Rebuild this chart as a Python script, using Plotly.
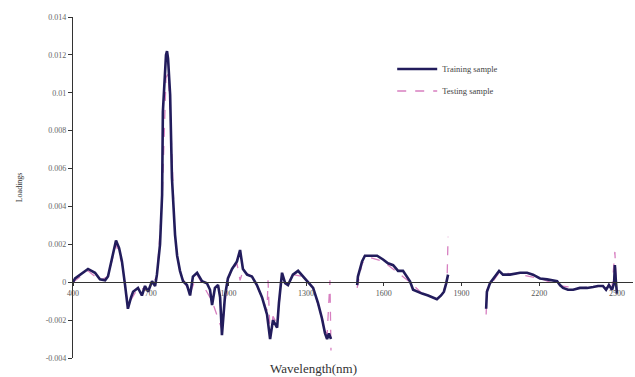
import plotly.graph_objects as go

# ---- data ----
wl_dark = [400, 408, 458, 485, 504, 524, 535, 551, 566, 578, 589, 601, 612, 624, 632, 651, 666, 678, 690, 705,
           717, 724, 736, 744, 747, 759, 763, 767, 775, 782, 794, 802, 813, 825, 840, 852, 863, 879, 898, 917,
           929, 937, 948, 960, 968, 975, 987, 998, 1014, 1033, 1045, 1056, 1072, 1091, 1110, 1130, 1149, 1161,
           1172, 1188, 1195, 1207, 1219, 1230, 1249, 1269, 1288, 1307, 1327, 1346, 1361, 1373, 1381, 1388, 1396,
           None,
           1497, 1500, 1516, 1527, 1547, 1574, 1597, 1616, 1636, 1655, 1674, 1690, 1701, 1713, 1728, 1748, 1771,
           1790, 1805, 1821, 1832, 1840, 1848,
           None,
           1995, 1998, 2010, 2029, 2045, 2060, 2087, 2126, 2153, 2176, 2203, 2230, 2253, 2269, 2280, 2292, 2311,
           2331, 2357, 2385, 2408, 2427, 2446, 2458, 2469, 2481, 2489, 2492, 2496, 2500]
val_dark = [0.0, 0.0002, 0.0007, 0.0005, 0.00015, 0.0001, 0.0003, 0.0012, 0.0022, 0.0018, 0.0011, -0.00015,
            -0.0014, -0.0008, -0.0005, -0.0003, -0.0007, -0.0002, -0.0005, 0.00005, -0.0002, 0.0004, 0.002,
            0.0046, 0.009, 0.012, 0.0122, 0.0118, 0.0099, 0.0055, 0.0025, 0.0014, 0.0006, 0.00005, -0.00015,
            -0.0007, 0.0003, 0.0005, 0.00005, -0.00005, -0.0004, -0.0012, -0.0003, -0.00015, -0.0008, -0.0028,
            -0.0007, 0.0002, 0.0007, 0.0011, 0.0017, 0.0007, 0.0004, 0.0003, -0.00015, -0.0008, -0.0017, -0.003,
            -0.002, -0.0024, -0.0011, 0.0005, -0.00005, -0.00015, 0.0004, 0.0006, 0.0003, 0.0, -0.0003, -0.0011,
            -0.0019, -0.0027, -0.003, -0.0027, -0.003,
            None,
            -0.00015, 0.0003, 0.0011, 0.0014, 0.0014, 0.0014, 0.0012, 0.001, 0.0009, 0.0006, 0.0006, 0.0003,
            0.00005, -0.0004, -0.0005, -0.0006, -0.0007, -0.0008, -0.0009, -0.0007, -0.0005, -0.0001, 0.0004,
            None,
            -0.0014, -0.0005, -0.00005, 0.0003, 0.0006, 0.0004, 0.0004, 0.0005, 0.0005, 0.0004, 0.0002, 0.00015,
            0.0001, 0.00005, -0.00015, -0.0003, -0.0004, -0.0004, -0.0003, -0.0003, -0.00025, -0.0002, -0.0002,
            -0.0004, -0.00015, -0.0004, -0.00005, 0.0009, 0.00005, -0.0006]

wl_pink = [400, 458, 504, 535, 566, 589, 612, 651, 690, 724, 744, 759, 767, 775, 794, 813, 852, 879, 937, 975,
           998, 1033, 1045, 1056, 1091, 1130, 1149, 1153, 1161, 1172, 1188, 1207, 1249, 1288, 1327, 1361, 1381,
           1392, 1396,
           None,
           1497, 1516, 1547, 1597, 1655, 1701, 1748, 1805, 1832, 1844, 1848,
           None,
           1995, 1998, 2045, 2126, 2203, 2280, 2357, 2446, 2469, 2481, 2492, 2496, 2500]
val_pink = [0.0, 0.0006, 0.0001, 0.0003, 0.002, 0.001, -0.0012, -0.0003, -0.0004, 0.0003, 0.0042, 0.0108,
            0.011, 0.0092, 0.0023, 0.0005, -0.0006, 0.0004, -0.001, -0.0025, 0.0002, 0.001, 0.0001, 0.0006,
            0.0003, -0.0008, -0.0015, 0.0001, -0.0028, -0.0018, -0.0022, 0.0004, 0.0004, 0.0003, -0.0003,
            -0.0018, -0.0028, 0.0001, -0.0036,
            None,
            -0.0003, 0.001, 0.0013, 0.0011, 0.0005, 0.0, -0.0006, -0.0009, -0.0004, 0.0, 0.0024,
            None,
            -0.0017, -0.0004, 0.0005, 0.0004, 0.0002, -0.0002, -0.0003, -0.0002, -0.0005, -0.0003, 0.0016,
            -0.0002, -0.0008]

series_names = ["Training sample", "Testing sample"]
x_ticks = [400, 700, 1000, 1300, 1600, 1900, 2200, 2500]
y_ticks = [-0.004, -0.002, 0, 0.002, 0.004, 0.006, 0.008, 0.010, 0.012, 0.014]
y_tick_text = ["-0.004", "-0.002", "0", "0.002", "0.004", "0.006", "0.008", "0.01", "0.012", "0.014"]
x_title = "Wavelength(nm)"
y_title = "Loadings"

serif = "Liberation Serif, Times New Roman, serif"
y_min, y_max = -0.004, 0.014

fig = go.Figure()
fig.add_trace(go.Scatter(x=wl_pink, y=val_pink, mode="lines", name=series_names[1],
                         line=dict(color="#d77fc0", width=1.3, dash="dash"),
                         legendgroup="b", legendrank=2, connectgaps=False))
fig.add_trace(go.Scatter(x=wl_dark, y=val_dark, mode="lines", name=series_names[0],
                         line=dict(color="#221c5c", width=2.6),
                         legendgroup="a", legendrank=1, connectgaps=False))

fig.update_layout(
    width=635, height=377,
    margin=dict(l=73, r=2, t=17, b=19),
    paper_bgcolor="white", plot_bgcolor="white",
    font=dict(family=serif, size=8, color="#555555"),
    showlegend=True,
    legend=dict(x=0.57, y=0.89, xanchor="left", yanchor="top",
                bgcolor="rgba(0,0,0,0)", font=dict(family=serif, size=8.5, color="#444444"),
                traceorder="grouped", tracegroupgap=3, itemwidth=40),
    xaxis=dict(range=[400, 2562], anchor="free", position=(0 - y_min) / (y_max - y_min),
               showline=True, linecolor="#333333", linewidth=1.2,
               tickmode="array", tickvals=x_ticks, ticktext=[str(v) for v in x_ticks],
               ticks="outside", ticklen=3, tickcolor="#333333",
               showgrid=False, zeroline=False,
               tickfont=dict(family=serif, size=8, color="#555555")),
    yaxis=dict(range=[y_min, y_max], showline=True, linecolor="#333333", linewidth=1.2,
               tickmode="array", tickvals=y_ticks, ticktext=y_tick_text,
               ticks="outside", ticklen=4, tickcolor="#333333",
               showgrid=False, zeroline=False,
               tickfont=dict(family=serif, size=8, color="#666666")),
)

fig.add_annotation(text=x_title, xref="paper", yref="paper", x=0.43, y=-0.06,
                   xanchor="center", yanchor="bottom", showarrow=False,
                   font=dict(family=serif, size=13, color="#333333"))
fig.add_annotation(text=y_title, xref="paper", yref="paper", x=-0.095, y=0.5,
                   xanchor="center", yanchor="middle", showarrow=False, textangle=-90,
                   font=dict(family=serif, size=8, color="#333333"))

fig.write_html("out.html")
